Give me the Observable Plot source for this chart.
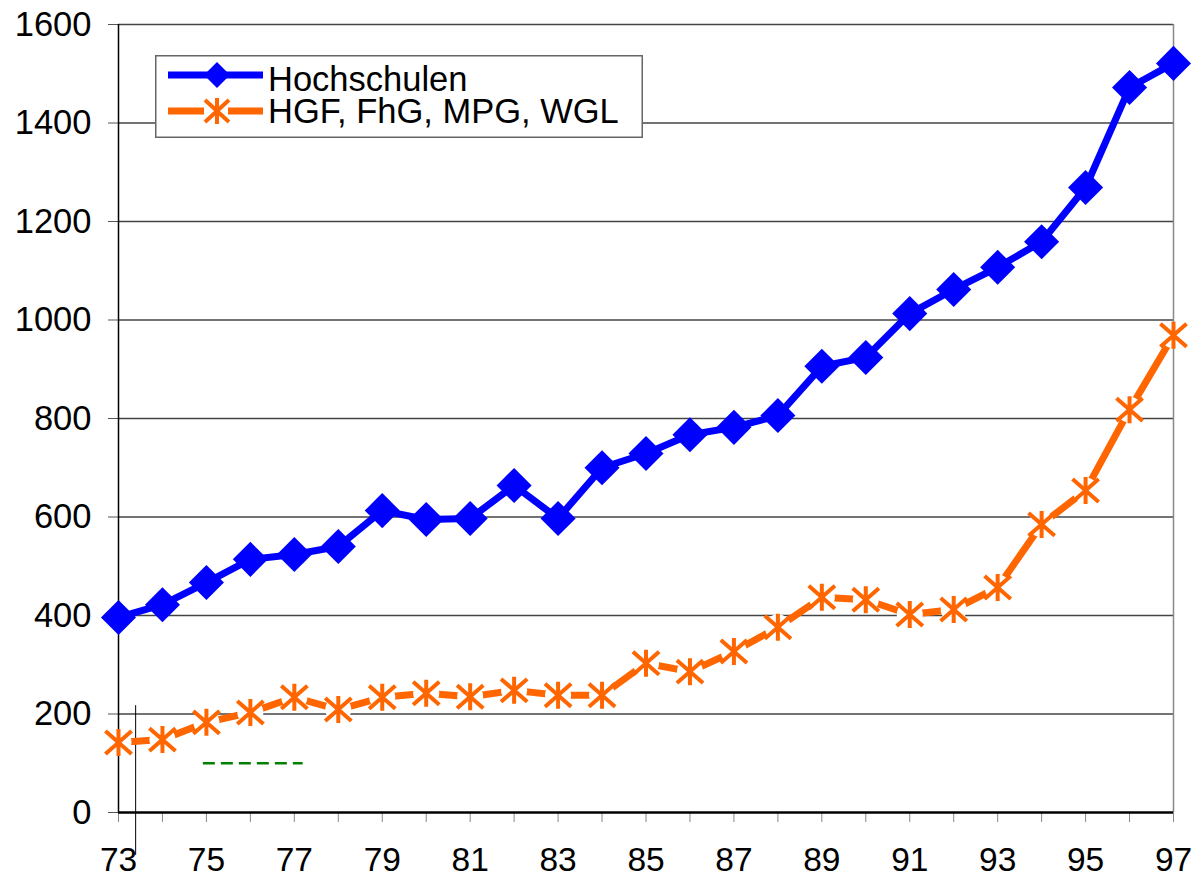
<!DOCTYPE html>
<html>
<head>
<meta charset="utf-8">
<script src="https://cdn.jsdelivr.net/npm/d3@7"></script>
<script src="https://cdn.jsdelivr.net/npm/@observablehq/plot@0.6"></script>
<style>
  html, body { margin: 0; padding: 0; background: #fff; }
  #wrap { position: relative; width: 1196px; height: 877px; font-family: "Liberation Sans", Arial, sans-serif; }
  #legend { position: absolute; left: 155px; top: 55px; }
</style>
</head>
<body>
<div id="wrap"></div>
<script>
// ---- data ----
const years = [73,74,75,76,77,78,79,80,81,82,83,84,85,86,87,88,89,90,91,92,93,94,95,96,97];
const hochschulen = [396,422,467,514,524,540,613,595,597,664,597,700,729,767,782,806,906,924,1013,1062,1107,1159,1269,1472,1521];
const ausseruniv = [142,148,183,203,234,209,234,242,235,248,238,238,303,286,327,376,437,432,402,412,457,585,654,818,969];
const seriesNames = ["Hochschulen", "HGF, FhG, MPG, WGL"];
const yTicks = [0,200,400,600,800,1000,1200,1400,1600];
const xLabelYears = [73,75,77,79,81,83,85,87,89,91,93,95,97];
// stray drawing objects present in the original (data space)
const strayLine = [{x: 73.39, y1: 217, y2: -87}];
const strayDash = [{y: 100, x1: 74.93, x2: 77.2}];

const blue = "#0000ff", orange = "#ff6600";
const dataH = years.map((y, i) => ({year: y, value: hochschulen[i]}));
const dataO = years.map((y, i) => ({year: y, value: ausseruniv[i]}));

const asterisk = {
  draw(ctx, size) {
    const r = Math.sqrt(size / Math.PI);
    const a = r * 0.97, b = r * 0.85;
    ctx.moveTo(0, -r); ctx.lineTo(0, r);
    ctx.moveTo(-a, -b); ctx.lineTo(a, b);
    ctx.moveTo(-a, b); ctx.lineTo(a, -b);
  }
};

const FS = 34.5;

const chart = Plot.plot({
  width: 1196,
  height: 877,
  marginLeft: 118,
  marginRight: 23,
  marginTop: 24,
  marginBottom: 65,
  style: {fontFamily: '"Liberation Sans", Arial, sans-serif', color: "#000", background: "#fff", overflow: "visible"},
  x: {domain: [73, 97], type: "linear"},
  y: {domain: [0, 1600]},
  marks: [
    Plot.ruleY(yTicks.filter(d => d > 0), {stroke: "#444", strokeWidth: 1.3}),
    Plot.ruleX([97], {stroke: "#888", strokeWidth: 1.5}),
    Plot.axisY({ticks: yTicks, tickSize: 10, tickPadding: 17, fontSize: FS, stroke: "#555", tickFormat: d => String(d)}),
    Plot.axisX({ticks: years, tickSize: 10, tickPadding: 25, fontSize: 33.5, stroke: "#888",
                tickFormat: d => xLabelYears.includes(d) ? String(d) : ""}),
    Plot.ruleX([73], {stroke: "#000", strokeWidth: 1.5}),
    Plot.ruleY([0], {stroke: "#000", strokeWidth: 2.5}),
    Plot.ruleX(strayLine, {x: "x", y1: "y1", y2: "y2", stroke: "#000", strokeWidth: 1, clip: false}),
    Plot.ruleY(strayDash, {y: "y", x1: "x1", x2: "x2", stroke: "#008000", strokeWidth: 2.5, strokeDasharray: "12,6"}),
    Plot.line(dataO, {x: "year", y: "value", stroke: orange, strokeWidth: 7, strokeLinejoin: "miter"}),
    Plot.dot(dataO, {x: "year", y: "value", r: 13, fill: "#fff", stroke: "none"}),
    Plot.dot(dataO, {x: "year", y: "value", r: 13.5, symbol: asterisk, fill: "none", stroke: orange, strokeWidth: 4}),
    Plot.line(dataH, {x: "year", y: "value", stroke: blue, strokeWidth: 7}),
    Plot.dot(dataH, {x: "year", y: "value", r: 15.8, symbol: "diamond2", fill: blue, stroke: "none"})
  ]
});
document.getElementById("wrap").appendChild(chart);

// ---- legend ----
const W = 488, H = 83;
const leg = d3.select("#wrap").append("svg").attr("id", "legend")
  .attr("width", W).attr("height", H)
  .style("font-family", '"Liberation Sans", Arial, sans-serif');
leg.append("rect").attr("x", 0.75).attr("y", 0.75).attr("width", W - 1.5).attr("height", H - 1.5)
  .attr("fill", "#fff").attr("stroke", "#666").attr("stroke-width", 1.5);
// Hochschulen swatch
leg.append("line").attr("x1", 13).attr("x2", 108).attr("y1", 20).attr("y2", 20)
  .attr("stroke", blue).attr("stroke-width", 7);
leg.append("path").attr("d", "M62,7L75,20L62,33L49,20Z").attr("fill", blue);
// HGF... swatch
leg.append("line").attr("x1", 13).attr("x2", 49).attr("y1", 56).attr("y2", 56)
  .attr("stroke", orange).attr("stroke-width", 7);
leg.append("line").attr("x1", 73).attr("x2", 108).attr("y1", 56).attr("y2", 56)
  .attr("stroke", orange).attr("stroke-width", 7);
leg.append("path").attr("d", "M62,43L62,69M50,45L74,67M50,67L74,45")
  .attr("stroke", orange).attr("stroke-width", 4).attr("fill", "none");
// labels
const lt = leg.append("text").attr("font-size", FS).attr("fill", "#000");
lt.append("tspan").attr("x", 113).attr("y", 36).text(seriesNames[0]);
lt.append("tspan").attr("x", 113).attr("y", 68).text(seriesNames[1]);
</script>
</body>
</html>
